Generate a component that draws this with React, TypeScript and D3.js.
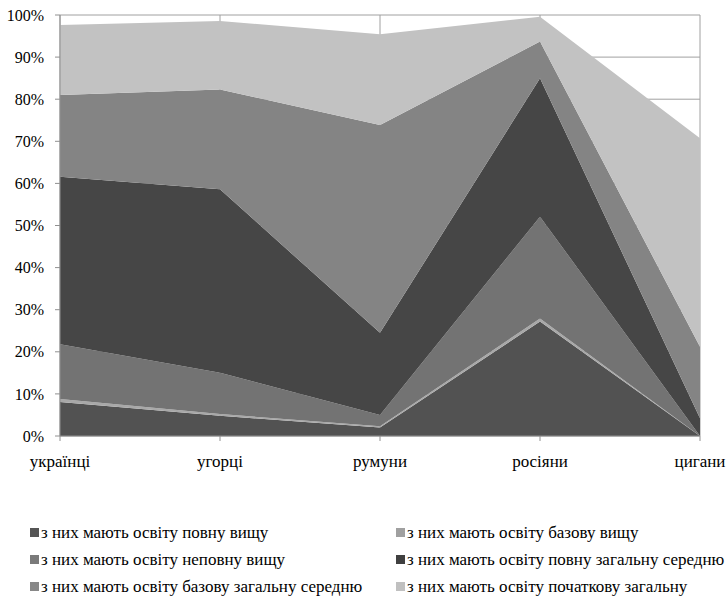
import React from "react";
import * as d3 from "d3";

const categories = ["українці", "угорці", "румуни", "росіяни", "цигани"];
const seriesNames = [
  "з них мають освіту повну вищу",
  "з них мають освіту базову вищу",
  "з них мають освіту неповну вищу",
  "з них мають освіту повну загальну середню",
  "з них мають освіту базову загальну середню",
  "з них мають освіту початкову загальну",
];
const povnaVyshcha = [8.1, 4.8, 2.0, 27.2, 0];
const bazovaVyshcha = [0.7, 0.4, 0.3, 0.7, 0];
const nepovnaVyshcha = [13.0, 9.8, 2.7, 24.2, 0];
const povnaSerednia = [39.8, 43.6, 19.5, 32.9, 4.2];
const bazovaSerednia = [19.4, 23.7, 49.4, 8.7, 17.0];
const pochatkova = [16.6, 16.3, 21.5, 5.9, 49.5];
const yTicks = [0, 10, 20, 30, 40, 50, 60, 70, 80, 90, 100];

const seriesValues = [povnaVyshcha, bazovaVyshcha, nepovnaVyshcha, povnaSerednia, bazovaSerednia, pochatkova];
const fills = ["#525252", "#a8a8a8", "#737373", "#464646", "#848484", "#c2c2c2"];
const legendFills = ["#555555", "#a0a0a0", "#7a7a7a", "#404040", "#888888", "#c0c0c0"];

const W = 726, H = 608;
const left = 60, right = 700, top = 15, bottom = 436;
const FONT = "Liberation Serif";

export default function App() {
  const x = d3.scalePoint<string>().domain(categories).range([left, right]);
  const y = d3.scaleLinear().domain([0, 100]).range([bottom, top]);
  const rows = categories.map((c, i) => {
    const r: any = { cat: c };
    seriesValues.forEach((s, k) => (r["s" + k] = s[i]));
    return r;
  });
  const stack = d3.stack<any>().keys(seriesValues.map((_, k) => "s" + k));
  const stacked = stack(rows);
  const area = d3
    .area<any>()
    .x((d) => x(d.data.cat)!)
    .y0((d) => y(d[0]))
    .y1((d) => y(d[1]));

  const ts: React.CSSProperties = { fontFamily: FONT, fontSize: 16 };
  const ls: React.CSSProperties = { fontFamily: FONT, fontSize: 17 };
  return (
    <svg width={W} height={H} style={{ position: "absolute", left: 0, top: 0, background: "#fff" }}>
      {yTicks.map((t) => (
        <line key={"g" + t} x1={left} x2={right} y1={y(t)} y2={y(t)} stroke="#a0a0a0" strokeWidth={1} />
      ))}
      {categories.map((c) => (
        <line key={"v" + c} x1={x(c)} x2={x(c)} y1={top} y2={bottom} stroke="#a0a0a0" strokeWidth={1} />
      ))}
      {stacked.map((s, k) => (
        <path key={k} d={area(s as any)!} fill={fills[k]} stroke="none" />
      ))}
      <line x1={left} x2={left} y1={top} y2={bottom} stroke="#909090" />
      <line x1={left} x2={right} y1={bottom} y2={bottom} stroke="#909090" />
      {yTicks.map((t) => (
        <g key={"t" + t}>
          <line x1={left - 5} x2={left} y1={y(t)} y2={y(t)} stroke="#909090" />
          <text x={left - 16} y={y(t)} dy="0.35em" textAnchor="end" style={ts} fill="#000">
            {t + "%"}
          </text>
        </g>
      ))}
      {categories.map((c) => (
        <g key={"x" + c}>
          <line x1={x(c)} x2={x(c)} y1={bottom} y2={bottom + 5} stroke="#909090" />
          <text x={x(c)} y={bottom + 31} textAnchor="middle" style={ls} fill="#000">
            {c}
          </text>
        </g>
      ))}
      {seriesNames.map((n, k) => {
        const col = k % 2;
        const row = Math.floor(k / 2);
        const lx = col === 0 ? 30 : 396;
        const ly = 532 + row * 27;
        return (
          <g key={"l" + k}>
            <rect x={lx} y={ly - 4} width={9} height={9} fill={legendFills[k]} />
            <text x={lx + 11} y={ly} dy="0.38em" style={ls} fill="#000">
              {n}
            </text>
          </g>
        );
      })}
    </svg>
  );
}
